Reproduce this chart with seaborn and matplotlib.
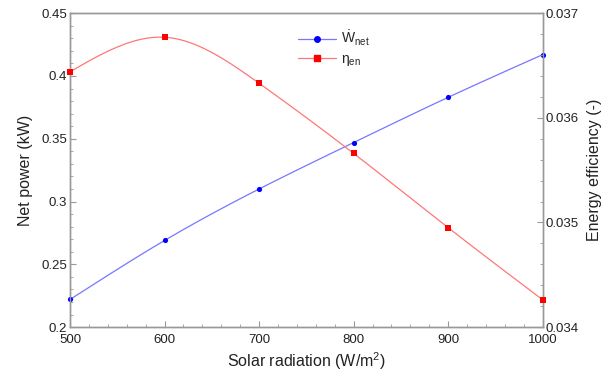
import numpy as np
import pandas as pd
import matplotlib
matplotlib.use("Agg")
import matplotlib.pyplot as plt
import seaborn as sns
from matplotlib.lines import Line2D
from matplotlib.ticker import MultipleLocator

radiation = [500, 600, 700, 800, 900, 1000]
net_power = [0.222, 0.269, 0.310, 0.347, 0.383, 0.417]
efficiency = [0.03644, 0.03677, 0.03633, 0.03566, 0.03495, 0.03426]

sns.set_style("ticks")
plt.rcParams['font.family'] = ['Liberation Sans', 'DejaVu Sans']
plt.rcParams['mathtext.fontset'] = 'custom'
plt.rcParams['mathtext.rm'] = 'Liberation Sans'
plt.rcParams['mathtext.it'] = 'Liberation Sans'


def natural_spline(x, y, n=300):
    x = np.asarray(x, float); y = np.asarray(y, float)
    k = len(x); h = np.diff(x)
    A = np.zeros((k, k)); b = np.zeros(k)
    A[0, 0] = A[-1, -1] = 1
    for i in range(1, k - 1):
        A[i, i - 1] = h[i - 1]; A[i, i] = 2 * (h[i - 1] + h[i]); A[i, i + 1] = h[i]
        b[i] = 6 * ((y[i + 1] - y[i]) / h[i] - (y[i] - y[i - 1]) / h[i - 1])
    M = np.linalg.solve(A, b)
    xs = np.linspace(x[0], x[-1], n)
    idx = np.clip(np.searchsorted(x, xs) - 1, 0, k - 2)
    x0, x1 = x[idx], x[idx + 1]; hh = x1 - x0
    ys = (M[idx] * (x1 - xs) ** 3 / (6 * hh) + M[idx + 1] * (xs - x0) ** 3 / (6 * hh)
          + (y[idx] / hh - M[idx] * hh / 6) * (x1 - xs) + (y[idx + 1] / hh - M[idx + 1] * hh / 6) * (xs - x0))
    return xs, ys

df = pd.DataFrame({"rad": radiation, "pow": net_power, "eff": efficiency})
xs1, ys1 = natural_spline(radiation, net_power)
xs2, ys2 = natural_spline(radiation, efficiency)

fig, ax = plt.subplots(figsize=(6.14, 3.76), dpi=100)
fig.subplots_adjust(left=0.114, right=0.884, top=0.965, bottom=0.13)
ax2 = ax.twinx()

blue = "#0000ff"; red = "#ff0000"
sns.lineplot(x=xs1, y=ys1, ax=ax, color="#7777ff", lw=0.9, estimator=None)
sns.scatterplot(data=df, x="rad", y="pow", ax=ax, color=blue, marker="o", s=14, edgecolor=blue, linewidth=0, zorder=5, clip_on=False)
sns.lineplot(x=xs2, y=ys2, ax=ax2, color="#ff7777", lw=0.9, estimator=None)
sns.scatterplot(data=df, x="rad", y="eff", ax=ax2, color=red, marker="s", s=16, edgecolor=red, linewidth=0, zorder=5, clip_on=False)

ax.set_xlim(500, 1000)
ax.set_ylim(0.2, 0.45)
ax2.set_ylim(0.034, 0.037)
ax.xaxis.set_major_locator(MultipleLocator(100))
ax.xaxis.set_minor_locator(MultipleLocator(20))
ax.yaxis.set_minor_locator(MultipleLocator(0.01))
ax2.yaxis.set_minor_locator(MultipleLocator(0.0002))
ax.set_yticks([0.2, 0.25, 0.3, 0.35, 0.4, 0.45])
ax.set_yticklabels(["0.2", "0.25", "0.3", "0.35", "0.4", "0.45"])
ax2.set_yticks([0.034, 0.035, 0.036, 0.037])
ax2.set_yticklabels(["0.034", "0.035", "0.036", "0.037"])

for a in (ax, ax2):
    for s in a.spines.values():
        s.set_color("#999999"); s.set_linewidth(1.0); s.set_visible(True)
    a.tick_params(which="both", direction="in", color="#999999", labelsize=9.5, labelcolor="#222222", pad=2)
    a.tick_params(which="major", length=4)
    a.tick_params(which="minor", length=2)
ax.tick_params(axis="y", which="both", right=False)
ax.tick_params(axis="x", which="both", top=False, pad=5)

ax.set_xlabel("Solar radiation (W/m$^2$)", fontsize=11.5, color="#222222", labelpad=3)
ax.set_ylabel("Net power (kW)", fontsize=11.5, color="#222222", labelpad=6)
ax2.set_ylabel("Energy efficiency (-)", fontsize=11.5, color="#222222", labelpad=6)

handles = [Line2D([], [], color="#7777ff", lw=0.9, marker="o", ms=4, mfc=blue, mec=blue),
           Line2D([], [], color="#ff7777", lw=0.9, marker="s", ms=4, mfc=red, mec=red)]
ax2.legend(handles, [r"$\dot{\mathrm{W}}_{\mathrm{net}}$", r"$\mathrm{\eta}_{\mathrm{en}}$"],
           loc="upper left", bbox_to_anchor=(0.455, 0.99), frameon=False, fontsize=10,
           handlelength=2.8, handletextpad=0.3, labelspacing=0.3)

fig.savefig("out.png", dpi=100)
